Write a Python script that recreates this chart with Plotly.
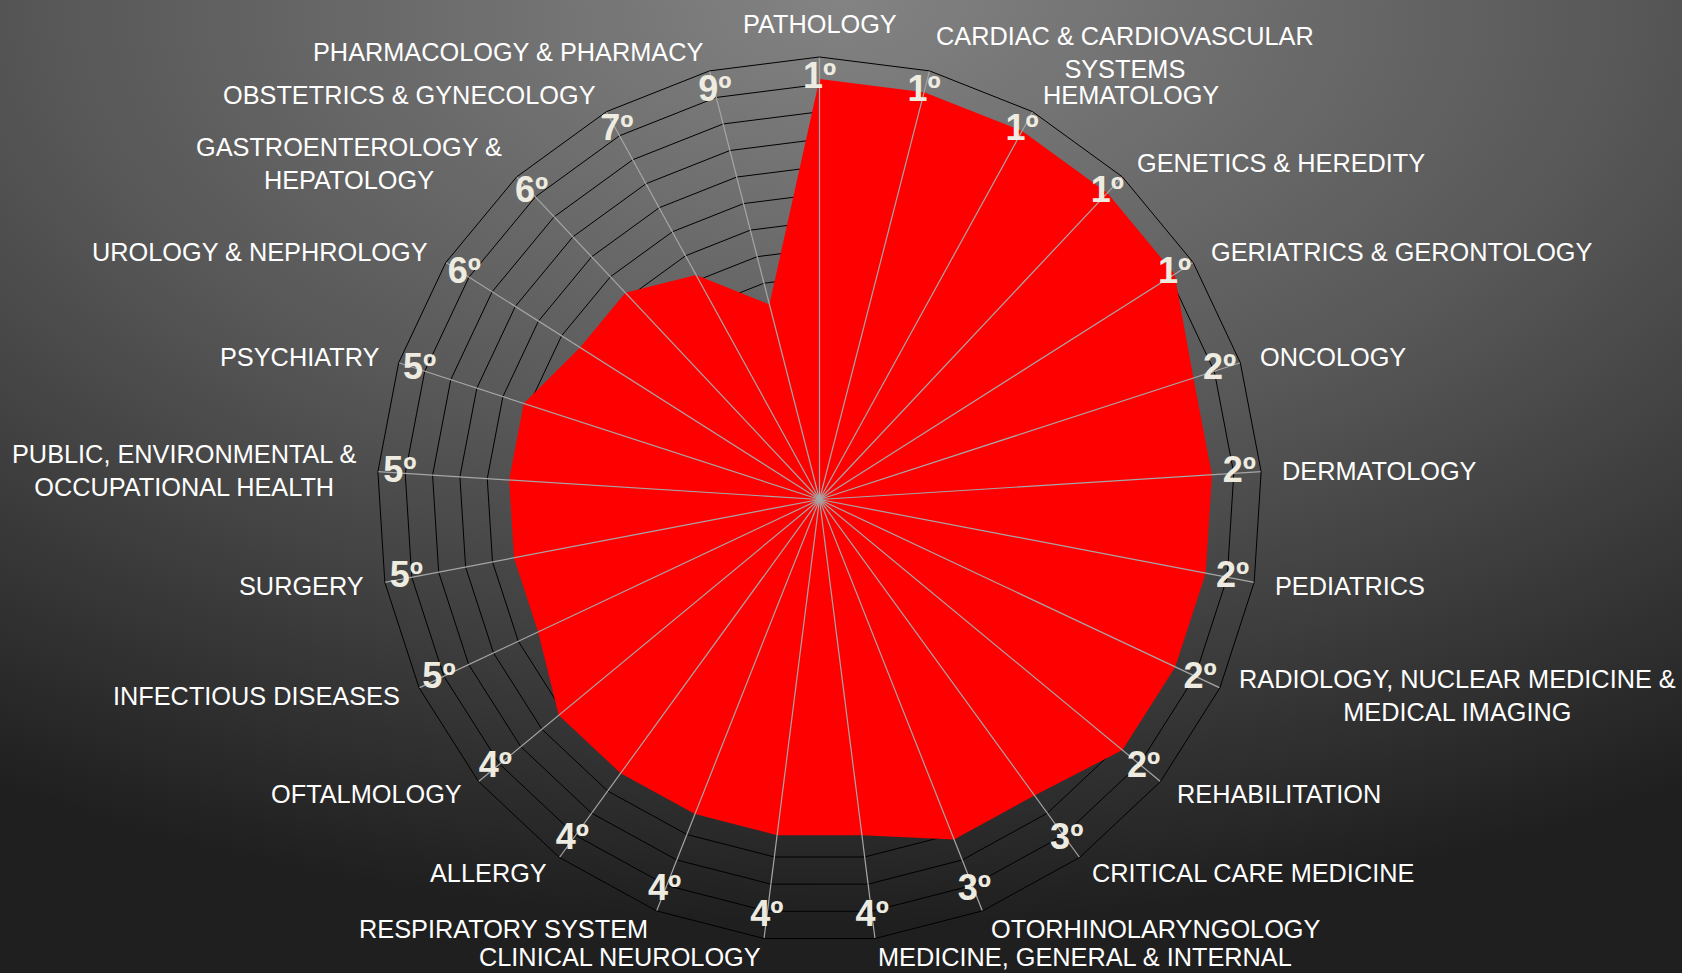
import base64
import math
import plotly.graph_objects as go

# ---------------- data ----------------
categories = [
    "PATHOLOGY", "CARDIAC & CARDIOVASCULAR SYSTEMS", "HEMATOLOGY", "GENETICS & HEREDITY",
    "GERIATRICS & GERONTOLOGY", "ONCOLOGY", "DERMATOLOGY", "PEDIATRICS",
    "RADIOLOGY, NUCLEAR MEDICINE & MEDICAL IMAGING", "REHABILITATION", "CRITICAL CARE MEDICINE",
    "OTORHINOLARYNGOLOGY", "MEDICINE, GENERAL & INTERNAL", "CLINICAL NEUROLOGY",
    "RESPIRATORY SYSTEM", "ALLERGY", "OFTALMOLOGY", "INFECTIOUS DISEASES", "SURGERY",
    "PUBLIC, ENVIRONMENTAL & OCCUPATIONAL HEALTH", "PSYCHIATRY", "UROLOGY & NEPHROLOGY",
    "GASTROENTEROLOGY & HEPATOLOGY", "OBSTETRICS & GYNECOLOGY", "PHARMACOLOGY & PHARMACY",
]
tick_labels = [
    "PATHOLOGY", "CARDIAC & CARDIOVASCULAR<br>SYSTEMS", "HEMATOLOGY", "GENETICS & HEREDITY",
    "GERIATRICS & GERONTOLOGY", "ONCOLOGY", "DERMATOLOGY", "PEDIATRICS",
    "RADIOLOGY, NUCLEAR MEDICINE &<br>MEDICAL IMAGING", "REHABILITATION", "CRITICAL CARE MEDICINE",
    "OTORHINOLARYNGOLOGY", "MEDICINE, GENERAL & INTERNAL", "CLINICAL NEUROLOGY",
    "RESPIRATORY SYSTEM", "ALLERGY", "OFTALMOLOGY", "INFECTIOUS DISEASES", "SURGERY",
    "PUBLIC, ENVIRONMENTAL &<br>OCCUPATIONAL HEALTH", "PSYCHIATRY", "UROLOGY & NEPHROLOGY",
    "GASTROENTEROLOGY &<br>HEPATOLOGY", "OBSTETRICS & GYNECOLOGY", "PHARMACOLOGY & PHARMACY",
]
ranks = [1, 1, 1, 1, 1, 2, 2, 2, 2, 2, 3, 3, 4, 4, 4, 4, 4, 5, 5, 5, 5, 6, 6, 7, 9]
rank_labels = [f"{r}º" for r in ranks]
label_level = [1] * len(categories)   # level at which rank labels sit

# radial axis (ranks, reversed: best rank near the edge)
R_CENTER = 16.35
R_OUTER = 0.2

W, H = 1682, 973
DOM_X = [0.22414, 0.75030]
DOM_Y = [0.03186, 0.94142]
FONT = "Liberation Sans, Arial, sans-serif"

# ---------------- background gradient ----------------
svg = (
    "<svg xmlns='http://www.w3.org/2000/svg' width='1682' height='973' "
    "viewBox='0 0 1682 973' preserveAspectRatio='none'>"
    "<defs><radialGradient id='g' cx='0.5' cy='0' r='0.95'>"
    "<stop offset='0' stop-color='#838383'/>"
    "<stop offset='0.5' stop-color='#575757'/>"
    "<stop offset='1' stop-color='#1f1f1f'/>"
    "</radialGradient></defs>"
    "<rect width='1682' height='973' fill='url(#g)'/></svg>"
)
bg_src = "data:image/svg+xml;base64," + base64.b64encode(svg.encode()).decode()

fig = go.Figure()

# red filled area
fig.add_trace(go.Scatterpolar(
    r=ranks + ranks[:1],
    theta=categories + categories[:1],
    mode="lines",
    fill="toself",
    fillcolor="#FF0000",
    line=dict(color="#FF0000", width=0),
    hoverinfo="skip",
    showlegend=False,
))

# spokes on top of the fill
spoke_r, spoke_t = [], []
for c in categories:
    spoke_r += [R_CENTER, R_OUTER, None]
    spoke_t += [c, c, None]
fig.add_trace(go.Scatterpolar(
    r=spoke_r, theta=spoke_t, mode="lines",
    line=dict(color="#A6A6A6", width=1.2),
    hoverinfo="skip", showlegend=False, connectgaps=False,
))

# rank labels
fig.add_trace(go.Scatterpolar(
    r=label_level, theta=categories, mode="text",
    text=rank_labels, textposition="middle center",
    textfont=dict(family=FONT, size=36, color="#EEECE1", weight="bold"),
    hoverinfo="skip", showlegend=False,
))

# ---------------- category labels (placed around the polygon, Excel style) ----------------
n = len(categories)
cx = (DOM_X[0] + DOM_X[1]) / 2 * W
cy = (1 - (DOM_Y[0] + DOM_Y[1]) / 2) * H
R = min((DOM_X[1] - DOM_X[0]) * W, (DOM_Y[1] - DOM_Y[0]) * H) / 2
annotations = []
for i, txt in enumerate(tick_labels):
    th = math.radians(i * 360.0 / n)
    s, c = math.sin(th), math.cos(th)
    vx, vy = cx + R * s, cy - R * c
    if abs(s) < 0.05:
        x, xa, ty = vx, "center", vy - 33
    else:
        x = vx + 20 * s
        xa = "left" if s > 0 else "right"
        ty = vy - 19 * c
    annotations.append(dict(
        text=txt, x=x / W, y=1 - ty / H, xref="paper", yref="paper",
        xanchor=xa, yanchor="middle", align="center", showarrow=False,
        borderpad=0, font=dict(family=FONT, size=25.3, color="#FFFFFF"),
    ))

fig.update_layout(
    width=W, height=H,
    margin=dict(l=0, r=0, t=0, b=0),
    paper_bgcolor="#333333",
    showlegend=False,
    annotations=annotations,
    images=[dict(source=bg_src, xref="paper", yref="paper", x=0, y=1,
                 sizex=1, sizey=1, xanchor="left", yanchor="top",
                 sizing="stretch", layer="below")],
    polar=dict(
        domain=dict(x=DOM_X, y=DOM_Y),
        bgcolor="rgba(0,0,0,0)",
        gridshape="linear",
        radialaxis=dict(
            range=[R_CENTER, R_OUTER],
            tick0=R_OUTER, dtick=1,
            showticklabels=False, ticks="",
            showline=False,
            gridcolor="#000000", gridwidth=1,
        ),
        angularaxis=dict(
            type="category",
            categoryorder="array", categoryarray=categories,
            direction="clockwise", rotation=90,
            showticklabels=False, ticks="",
            showline=True, linecolor="#000000", linewidth=1,
            showgrid=False,
        ),
    ),
)

fig.write_html(
    "out.html",
    config={"displayModeBar": False},
    post_script="document.body.style.margin='0';document.body.style.overflow='hidden';",
)
